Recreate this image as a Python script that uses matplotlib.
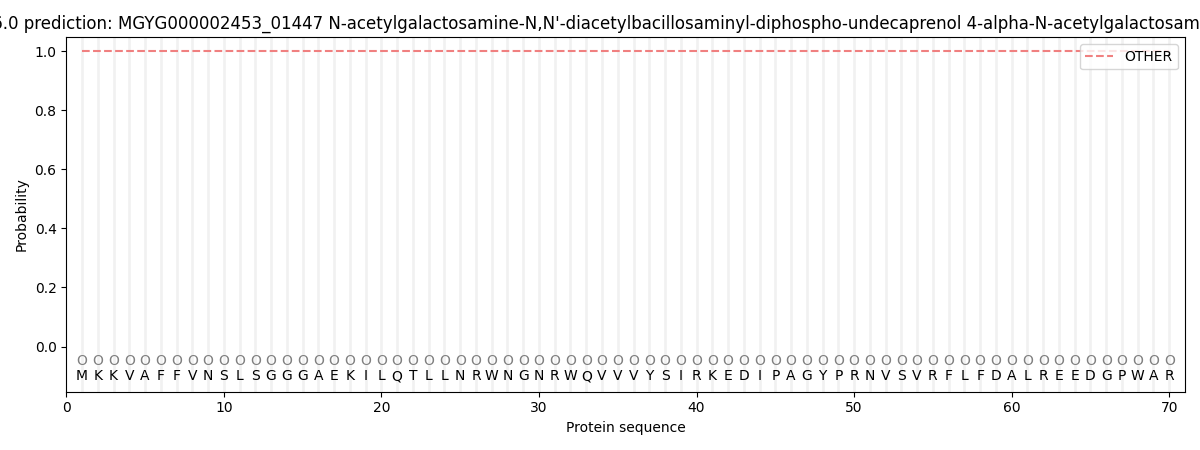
import matplotlib
matplotlib.use("Agg")
import matplotlib.pyplot as plt

sequence = "MKKVAFFVNSLSGGGAEKILQTLLNRWNGNRWQVVVYSIRKEDIPAGYPRNVSVRFLFDALREEDGPWAR"
positions = list(range(1, len(sequence) + 1))
other_prob = [1.0] * len(sequence)
pred_labels = ["O"] * len(sequence)
title = ("SignalP 6.0 prediction: MGYG000002453_01447 N-acetylgalactosamine-N,N'-"
         "diacetylbacillosaminyl-diphospho-undecaprenol 4-alpha-N-acetylgalactosaminyltransferase")

fig, ax = plt.subplots(figsize=(12, 4.5), dpi=100)

for p in positions:
    ax.axvline(p, color="lightgray", alpha=0.3, linewidth=2, zorder=0)

ax.plot(positions, other_prob, linestyle="--", color="lightcoral", label="OTHER")

for p, aa, lab in zip(positions, sequence, pred_labels):
    ax.text(p, -0.05, lab, ha="center", va="center", color="gray", fontsize=10)
    ax.text(p, -0.1, aa, ha="center", va="center", color="black", fontsize=10)

ax.set_xlim(0, 71)
ax.set_ylim(-0.153, 1.047)
ax.set_xlabel("Protein sequence")
ax.set_ylabel("Probability")
ax.set_title(title)
ax.legend(loc="upper right")

plt.tight_layout()
plt.savefig("out.png")
